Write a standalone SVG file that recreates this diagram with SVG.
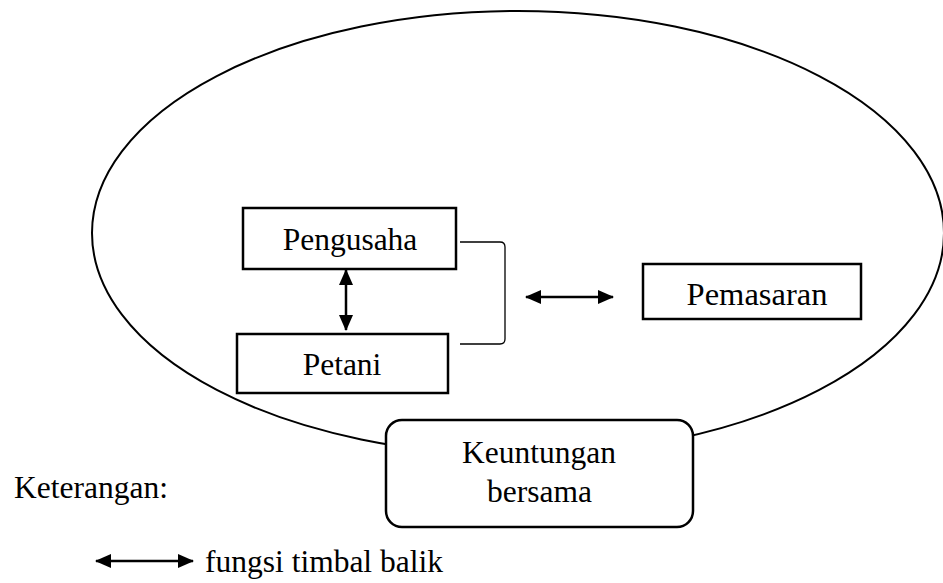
<svg xmlns="http://www.w3.org/2000/svg" width="943" height="583" viewBox="0 0 943 583">
  <style>
    .box { fill: #ffffff; stroke: #000000; stroke-width: 2.5; }
    .lbl { font-family: "Liberation Serif", "Times New Roman", serif; font-size: 31.5px; fill: #000000; }
    .mid { text-anchor: middle; }
    .arr { fill: none; stroke: #000000; stroke-width: 2.5; marker-start: url(#ah); marker-end: url(#ah); }
    .thin { fill: none; stroke: #000000; stroke-width: 1.3; }
  </style>
  <defs>
    <marker id="ah" viewBox="0 0 16 14" refX="15" refY="7" markerWidth="16" markerHeight="14" markerUnits="userSpaceOnUse" orient="auto-start-reverse">
      <path d="M0,0 L16,7 L0,14 Z" fill="#000000"/>
    </marker>
  </defs>
  <rect width="943" height="583" fill="#ffffff"/>
  <g id="lingkup">
    <ellipse cx="518" cy="233" rx="426" ry="222" fill="none" stroke="#000000" stroke-width="2"/>
  </g>
  <g id="connectors">
    <line class="arr" x1="346" y1="270" x2="346" y2="330"/>
    <path class="thin" d="M460,242 L500,242 Q505,242 505,247 L505,339 Q505,344 500,344 L460,344"/>
    <line class="arr" x1="526" y1="297" x2="613" y2="297"/>
  </g>
  <g id="pengusaha">
    <rect class="box" x="243" y="208" width="213" height="61"/>
    <text class="lbl mid" x="350" y="250">Pengusaha</text>
  </g>
  <g id="petani">
    <rect class="box" x="237" y="334" width="211" height="59"/>
    <text class="lbl mid" x="342" y="375">Petani</text>
  </g>
  <g id="pemasaran">
    <rect class="box" x="643" y="264" width="218" height="55"/>
    <text class="lbl mid" x="757" y="305" style="font-size:32.5px">Pemasaran</text>
  </g>
  <g id="keuntungan">
    <rect class="box" x="386" y="420" width="307" height="107" rx="16" ry="16"/>
    <text class="lbl mid" x="539" y="463">Keuntungan</text>
    <text class="lbl mid" x="539.5" y="502">bersama</text>
  </g>
  <g id="keterangan">
    <text class="lbl" x="14" y="498">Keterangan:</text>
    <line class="arr" x1="96" y1="561" x2="193" y2="561"/>
    <text class="lbl" x="205" y="572">fungsi timbal balik</text>
  </g>
</svg>
